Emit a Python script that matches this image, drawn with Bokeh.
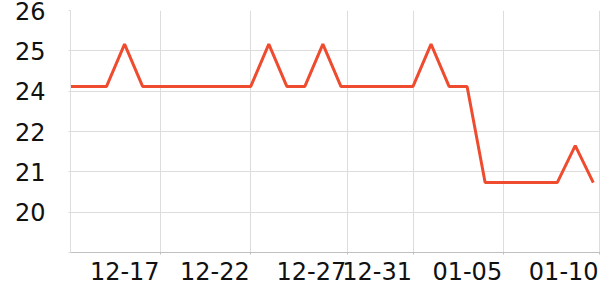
import pandas as pd
from bokeh.plotting import figure
from bokeh.models import (FixedTicker, Range1d, ColumnDataSource, DatetimeAxis,
                          CustomJSTickFormatter)
from bokeh.embed import file_html
from bokeh.resources import INLINE

# ---- data ----
dates = [
    "2023-12-12", "2023-12-13", "2023-12-14", "2023-12-15", "2023-12-16",
    "2023-12-17", "2023-12-18", "2023-12-19", "2023-12-20", "2023-12-21",
    "2023-12-22", "2023-12-23", "2023-12-24", "2023-12-25", "2023-12-26",
    "2023-12-27", "2023-12-28", "2023-12-29", "2023-12-30", "2023-12-31",
    "2024-01-01", "2024-01-02", "2024-01-03", "2024-01-04", "2024-01-05",
    "2024-01-06", "2024-01-07", "2024-01-08", "2024-01-09", "2024-01-10",
]
values = [
    23.74, 23.74, 23.74, 25.0, 23.74,
    23.74, 23.74, 23.74, 23.74, 23.74,
    23.74, 25.0, 23.74, 23.74, 25.0,
    23.74, 23.74, 23.74, 23.74, 23.74,
    25.0, 23.74, 23.74, 20.88, 20.88,
    20.88, 20.88, 20.88, 21.98, 20.88,
]
y_ticks = [26, 24.8, 23.6, 22.4, 21.2, 20.0, 18.8]
y_tick_labels = ["26", "25", "24", "22", "21", "20", ""]
x_ticks = ["2023-12-17", "2023-12-22", "2023-12-27 08:24", "2023-12-31",
           "2024-01-05", "2024-01-10 08:24"]
x_tick_labels = ["12-17", "12-22", "12-27", "12-31", "01-05", "01-10"]

src = ColumnDataSource(dict(x=pd.to_datetime(dates), y=values))

x_start = pd.Timestamp(dates[0])
x_end = x_start + pd.Timedelta(days=29.40)

p = figure(width=600, height=300, x_axis_type="datetime",
           output_backend="svg", toolbar_location=None,
           x_range=Range1d(x_start, x_end), y_range=Range1d(18.8, 26),
           min_border_left=70, min_border_right=0, min_border_top=10,
           min_border_bottom=48)
p.outline_line_color = None
p.background_fill_color = "white"
p.border_fill_color = "white"

p.line("x", "y", source=src, line_color="#ef4c2f", line_width=3)

tick_ms = [pd.Timestamp(t).value / 1e6 for t in x_ticks]
# tick-mark axis (no labels)
p.xaxis.ticker = FixedTicker(ticks=tick_ms)
p.xaxis.formatter = CustomJSTickFormatter(code="return ''")
p.xaxis.minor_tick_line_color = None
p.xaxis.major_tick_in = 0
p.xaxis.major_tick_out = 2
p.xaxis.major_tick_line_color = "#c0c0c0"
p.xaxis.axis_line_color = "#c0c0c0"
p.xaxis.major_label_text_font_size = "1px"
p.xaxis.major_label_standoff = 0
p.xgrid.ticker = FixedTicker(ticks=tick_ms)

# label axis: labels end just left of their ticks
shift_ms = 1.99 * 86400000
lab_axis = DatetimeAxis(
    ticker=FixedTicker(ticks=[t - shift_ms for t in tick_ms]),
    formatter=CustomJSTickFormatter(args=dict(labels=x_tick_labels),
                                    code="return labels[index]"),
    axis_line_color=None, major_tick_line_color=None, minor_tick_line_color=None,
    major_tick_in=0, major_tick_out=0, major_label_standoff=7,
    major_label_text_font="DejaVu Sans", major_label_text_font_size="24px",
    major_label_text_color="#111111")
p.add_layout(lab_axis, "below")

p.yaxis.ticker = FixedTicker(ticks=y_ticks)
p.yaxis.major_label_overrides = {t: l for t, l in zip(y_ticks, y_tick_labels)}
p.yaxis.minor_tick_line_color = None
p.yaxis.major_tick_in = 0
p.yaxis.major_tick_out = 2
p.yaxis.major_tick_line_color = "#dddddd"
p.yaxis.axis_line_color = "#dddddd"
p.yaxis.major_label_text_font = "DejaVu Sans"
p.yaxis.major_label_text_font_size = "24px"
p.yaxis.major_label_text_color = "#111111"
p.yaxis.major_label_standoff = 23

p.xgrid.grid_line_color = "#dddddd"
p.ygrid.grid_line_color = "#dddddd"

open("out.html", "w").write(file_html(p, INLINE))
